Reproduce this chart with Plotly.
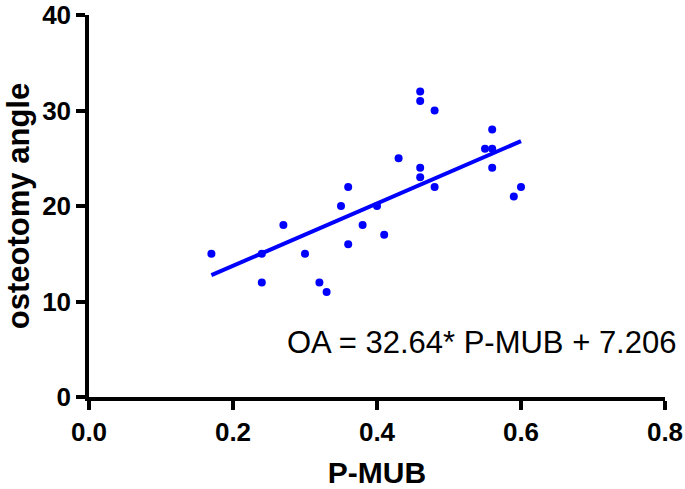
import plotly.graph_objects as go

# Data
p_mub = [0.17, 0.24, 0.24, 0.27, 0.30, 0.32, 0.33, 0.35, 0.36, 0.36, 0.38, 0.40, 0.41,
         0.43, 0.46, 0.46, 0.46, 0.46, 0.48, 0.48, 0.55, 0.56, 0.56, 0.56, 0.59, 0.60]
osteotomy_angle = [15, 15, 12, 18, 15, 12, 11, 20, 22, 16, 18, 20, 17,
                   25, 32, 31, 24, 23, 30, 22, 26, 28, 26, 24, 21, 22]

slope = 32.64
intercept = 7.206
fit_x = [min(p_mub), max(p_mub)]
fit_y = [slope * v + intercept for v in fit_x]

x_ticks = [0.0, 0.2, 0.4, 0.6, 0.8]
x_tick_labels = ["0.0", "0.2", "0.4", "0.6", "0.8"]
y_ticks = [0, 10, 20, 30, 40]

FONT = "Liberation Sans, Arial, Helvetica, sans-serif"
BLUE = "#0000FF"

fig = go.Figure()
fig.add_trace(go.Scatter(x=p_mub, y=osteotomy_angle, mode="markers",
                         marker=dict(color=BLUE, size=8), showlegend=False,
                         cliponaxis=False))
fig.add_trace(go.Scatter(x=fit_x, y=fit_y, mode="lines",
                         line=dict(color=BLUE, width=4), showlegend=False))

fig.update_layout(
    width=685, height=489,
    margin=dict(l=89, r=20, t=15, b=92),
    paper_bgcolor="white", plot_bgcolor="white",
    font=dict(family=FONT, color="black"),
    xaxis=dict(range=[0, 0.8], tickvals=x_ticks, ticktext=x_tick_labels,
               automargin=False, ticklabeloverflow="allow",
               showgrid=False, zeroline=False, showline=True, linecolor="black",
               linewidth=3.5, ticks="outside", ticklen=9, tickwidth=3.5, tickcolor="black",
               tickfont=dict(family=FONT, size=26, weight="bold", color="black"),
               title=dict(text="P-MUB", font=dict(family=FONT, size=30, weight="bold"),
                          standoff=20)),
    yaxis=dict(range=[0, 40], tickvals=y_ticks,
               automargin=False, ticklabeloverflow="allow",
               showgrid=False, zeroline=False, showline=True, linecolor="black",
               linewidth=3.5, ticks="outside", ticklen=9, tickwidth=3.5, tickcolor="black",
               tickfont=dict(family=FONT, size=26, weight="bold", color="black"),
               title=dict(text="osteotomy angle", font=dict(family=FONT, size=31, weight="bold"),
                          standoff=4)),
)

fig.add_annotation(x=1.0226, y=0.1436, xref="paper", yref="paper",
                   xanchor="right", yanchor="middle",
                   text="OA = 32.64* P-MUB + 7.206", showarrow=False,
                   font=dict(family=FONT, size=31, color="black"))

# remove the default 8px page margin so the figure fills the window exactly
fig.write_html("out.html",
               config={"displayModeBar": False},
               post_script="document.body.style.margin='0px';document.body.style.overflow='hidden';")
